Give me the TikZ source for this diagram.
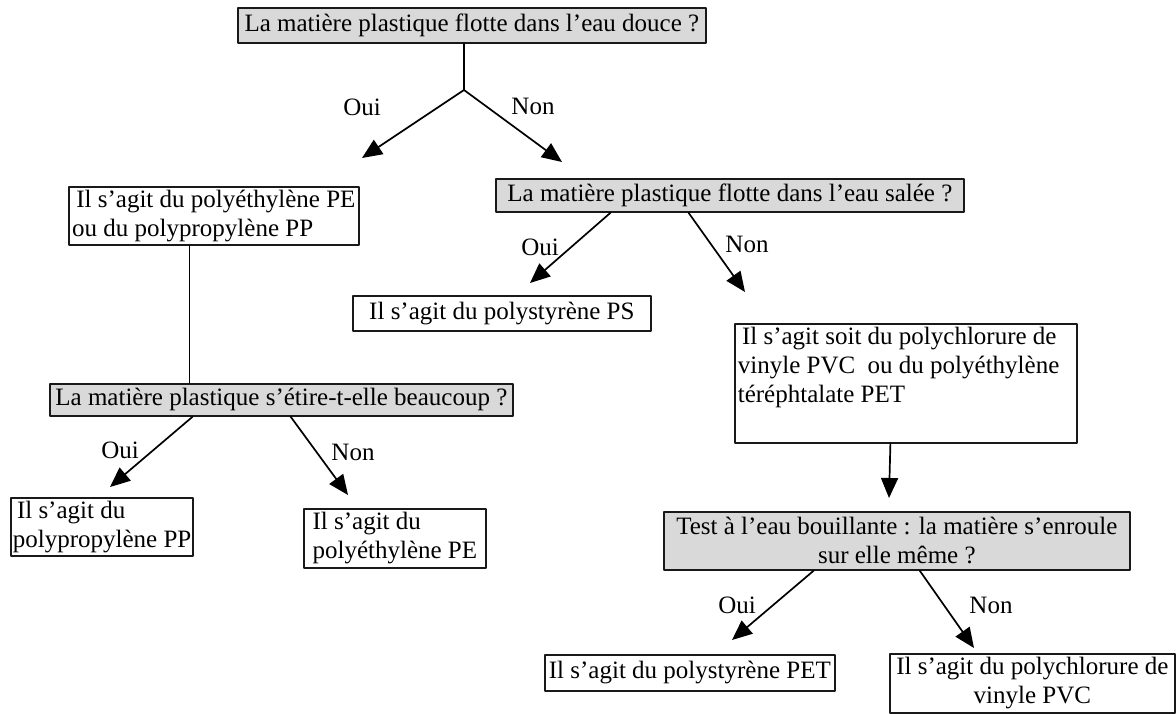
\documentclass[tikz,border=0pt]{standalone}
\usepackage{fontspec}
\setmainfont{Liberation Serif}
\usetikzlibrary{arrows.meta,calc}

\begin{document}
\begin{tikzpicture}[line cap=round,line join=round,x=0.5pt,y=-0.5pt,
  >={Triangle[length=10pt,width=8.5pt]},
  every node/.style={font=\fontsize{12.5}{14.5}\selectfont},
  question/.style={draw=black!90,fill=black!15,line width=0.85pt,inner sep=1pt,anchor=north west,align=center},
  answer/.style={draw=black!90,fill=white,line width=0.85pt,inner sep=1pt,anchor=north west,align=left},
  lien/.style={line width=0.85pt,->}]
\useasboundingbox (0,0) rectangle (1176,713);
% questions
\node[question,minimum width=234pt,minimum height=17.5pt] (q1) at (237,7) {La matière plastique flotte dans l’eau douce ?};
\node[question,minimum width=234pt,minimum height=16.5pt] (q2) at (495,178) {La matière plastique flotte dans l’eau salée ?};
\node[question,minimum width=231.5pt,minimum height=16pt] (q3) at (49,383) {La matière plastique s’étire-t-elle beaucoup ?};
\node[question,minimum width=233pt,minimum height=29pt] (q4) at (663,511) {Test à l’eau bouillante : la matière s’enroule\\ sur elle même ?};
% reponses
\node[answer,minimum width=145pt,minimum height=29pt] (pepp) at (68,186) {\,Il s’agit du polyéthylène PE\\ou du polypropylène PP};
\node[answer,minimum width=149pt,minimum height=17.5pt] (ps) at (352,295) {Il s’agit du polystyrène PS};
\node[answer,text width=168pt,minimum height=57.5pt,inner sep=1.5pt,align=flush left] (pvcpet) at (734,323) {\,Il s’agit soit du polychlorure de\\vinyle PVC \ ou du polyéthylène\\téréphtalate PET\\ \strut};
\node[answer,minimum width=91pt,minimum height=29pt] (pp) at (10,497) {\,Il s’agit du\\polypropylène PP};
\node[answer,minimum width=91pt,minimum height=29.5pt] (pe) at (303,508) {Il s’agit du\\polyéthylène PE};
\node[answer,minimum width=145pt,minimum height=18pt,align=center] (pet) at (544,654) {Il s’agit du polystyrène PET};
\node[answer,minimum width=142.5pt,minimum height=29.5pt,align=center] (pvc) at (889,653) {Il s’agit du polychlorure de\\vinyle PVC};
% points
\coordinate (fork) at (464,90);
\coordinate (t1) at (362,158);
\coordinate (t2) at (562,162);
\coordinate (t3) at (530,283);
\coordinate (t4) at (745,292);
\coordinate (t5) at (110,487);
\coordinate (t6) at (348,495);
\coordinate (t7) at (732,640);
\coordinate (t8) at (974,648);
\coordinate (t9) at (889,498);
% liens
\draw[line width=0.85pt] (q1.south -| fork) -- (fork);
\draw[lien] (fork) -- (t1);
\draw[lien] (fork) -- (t2);
\draw[lien] ($(q2.south west)!0.246!(q2.south east)$) -- (t3);
\draw[lien] ($(q2.south west)!0.412!(q2.south east)$) -- (t4);
\draw[line width=0.85pt] ($(pepp.south west)!0.417!(pepp.south east)$) coordinate (b1) -- (b1 |- q3.north);
\draw[lien] ($(q3.south west)!0.309!(q3.south east)$) -- (t5);
\draw[lien] ($(q3.south west)!0.52!(q3.south east)$) -- (t6);
\draw[lien] ($(pvcpet.south west)!0.455!(pvcpet.south east)$) -- (t9);
\draw[lien] ($(q4.south west)!0.322!(q4.south east)$) -- (t7);
\draw[lien] ($(q4.south west)!0.549!(q4.south east)$) -- (t8);
% oui / non
\node (oui1) at (362,107) {Oui};
\node (non1) at (533,106) {Non};
\node (oui2) at (540,247) {Oui};
\node (non2) at (747,244) {Non};
\node (oui3) at (120,450) {Oui};
\node (non3) at (353,452) {Non};
\node (oui4) at (737,605) {Oui};
\node (non4) at (991,605) {Non};
\end{tikzpicture}
\end{document}
